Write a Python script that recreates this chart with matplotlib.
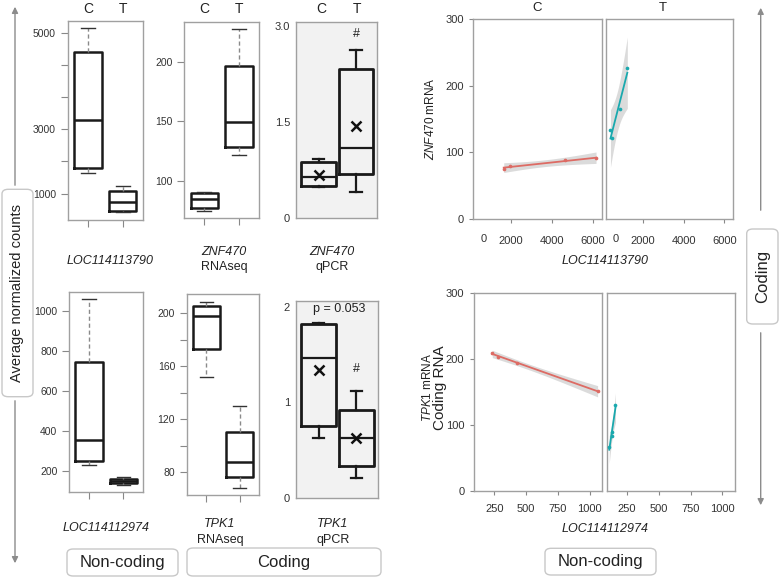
import numpy as np
import matplotlib
matplotlib.use("Agg")
import matplotlib.pyplot as plt
from matplotlib.patches import FancyBboxPatch, FancyArrowPatch

plt.rcParams['font.family'] = ['Liberation Sans', 'DejaVu Sans']
plt.rcParams['mathtext.fontset'] = 'custom'
plt.rcParams['mathtext.it'] = 'Liberation Sans:italic'
plt.rcParams['mathtext.rm'] = 'Liberation Sans'

# ---------------- data ----------------
groups = ["C", "T"]
# boxplot stats: whislo, q1, med, q3, whishi
loc3790_C = [1655, 1791, 3188, 4598, 5098]
loc3790_T = [437, 487, 745, 1083, 1246]
znf_rna_C = [75, 77.5, 85, 90, 91]
znf_rna_T = [122, 128, 149, 196, 227.5]
znf_qpcr_C = [0.48, 0.51, 0.65, 0.87, 0.92]
znf_qpcr_T = [0.41, 0.69, 1.10, 2.33, 2.62]
znf_qpcr_mean = [0.68, 1.43]
loc2974_C = [228, 251.5, 353, 743, 1058]
loc2974_T = [130, 138.5, 151.5, 161.5, 171.5]
tpk_rna_C = [151.7, 172.8, 198, 205.5, 208.8]
tpk_rna_T = [68.2, 76.5, 88, 110.4, 130]
tpk_qpcr_C = [0.625, 0.755, 1.46, 1.82, 1.83]
tpk_qpcr_T = [0.21, 0.33, 0.63, 0.92, 1.12]
tpk_qpcr_mean = [1.34, 0.63]

# scatter data
top_C_x = [1641, 1951, 4645, 6163]
top_C_y = [75, 80, 88.5, 91]
top_T_x = [384, 465, 841, 1216]
top_T_y = [133.5, 122, 164.5, 226.5]
bot_C_x = [234, 282, 432, 1063]
bot_C_y = [209.3, 202, 194, 151]
bot_T_x = [110, 129, 134, 159]
bot_T_y = [67, 83.7, 88.8, 129.6]

W, H = 780, 578
fig = plt.figure(figsize=(W / 100, H / 100), dpi=100)
fig.patch.set_facecolor('white')

def axpx(x0, y0, x1, y1):
    return fig.add_axes([x0 / W, 1 - y1 / H, (x1 - x0) / W, (y1 - y0) / H])

def ftext(x, y, s, **kw):
    kw.setdefault('ha', 'center')
    kw.setdefault('va', 'center')
    return fig.text(x / W, 1 - y / H, s, **kw)

SPINE = '#a0a0a0'
TICKC = '#333333'

def stats(vals, mean=None):
    d = dict(whislo=vals[0], q1=vals[1], med=vals[2], q3=vals[3], whishi=vals[4], fliers=[])
    if mean is not None:
        d['mean'] = mean
    return d

def style_axes(ax, bg='white'):
    ax.set_facecolor(bg)
    for s in ax.spines.values():
        s.set_color(SPINE)
        s.set_linewidth(1.0)
    ax.tick_params(colors='#888888', labelcolor=TICKC, labelsize=7.5, length=5, width=0.8)

def rnaseq_panel(box, c, t, ylim, ticks, labels, scale=None):
    ax = axpx(*box)
    style_axes(ax)
    if scale is not None:
        ax.set_yscale('function', functions=scale)
    ax.bxp([stats(c), stats(t)], positions=[1, 2], widths=0.8, capwidths=0.4,
           boxprops=dict(color='#1a1a1a', lw=1.8),
           medianprops=dict(color='#1a1a1a', lw=1.8),
           whiskerprops=dict(color='#8a8a8a', lw=1.0, ls=(0, (3, 2))),
           capprops=dict(color='#333333', lw=1.0))
    ax.set_xlim(0.42, 2.58)
    ax.set_ylim(*ylim)
    ax.set_yticks(ticks)
    ax.set_yticklabels(labels)
    ax.yaxis.set_minor_locator(matplotlib.ticker.NullLocator())
    ax.set_xticks([1, 2])
    ax.set_xticklabels(['', ''])
    return ax

def qpcr_panel(box, c, t, means, ylim, ticks, labels):
    ax = axpx(*box)
    style_axes(ax, bg='#f2f2f2')
    ax.bxp([stats(c, means[0]), stats(t, means[1])], positions=[1, 2], widths=0.93,
           capwidths=0.3, showmeans=True,
           boxprops=dict(color='#1a1a1a', lw=2.0),
           medianprops=dict(color='#1a1a1a', lw=1.6),
           whiskerprops=dict(color='#1a1a1a', lw=1.6),
           capprops=dict(color='#1a1a1a', lw=1.6),
           meanprops=dict(marker='x', markeredgecolor='#111111', markersize=7, markeredgewidth=1.8))
    ax.set_xlim(0.39, 2.57)
    ax.set_ylim(*ylim)
    ax.set_yticks(ticks)
    ax.set_yticklabels(labels)
    ax.set_xticks([])
    ax.tick_params(axis='y', length=0, pad=4, labelsize=8)
    return ax

# piecewise-linear scale of the first panel (as drawn in the figure)
_pv = [0, 1000, 3000, 5000, 8000]
_pp = [-32.5, 0, 65, 161, 305]
scale1 = (lambda v: np.interp(v, _pv, _pp), lambda p: np.interp(p, _pp, _pv))

ax1 = rnaseq_panel((67.7, 20.7, 142.7, 220), loc3790_C, loc3790_T, (200, 5256),
                   [1000, 2000, 3000, 3667, 4333, 5000], ['1000', '', '3000', '', '', '5000'], scale=scale1)
ax2 = rnaseq_panel((184.3, 21.5, 259, 218), znf_rna_C, znf_rna_T, (68.9, 233.6),
                   [100, 150, 200], ['100', '150', '200'])
ax3 = qpcr_panel((295.7, 21.7, 377.3, 218.3), znf_qpcr_C, znf_qpcr_T, znf_qpcr_mean,
                 (0, 3.06), [0, 1.5, 3.0], ['0', '1.5', '3.0'])
ax4 = rnaseq_panel((69.3, 291.7, 143.3, 492.3), loc2974_C, loc2974_T, (93.5, 1096.5),
                   [200, 400, 600, 800, 1000], ['200', '400', '600', '800', '1000'])
ax5 = rnaseq_panel((187, 294, 259, 495.3), tpk_rna_C, tpk_rna_T, (62.6, 214.6),
                   [80, 100, 120, 140, 160, 180, 200], ['80', '', '120', '', '160', '', '200'])
ax6 = qpcr_panel((295.7, 301, 377.7, 497.7), tpk_qpcr_C, tpk_qpcr_T, tpk_qpcr_mean,
                 (0, 2.06), [0, 1, 2], ['0', '1', '2'])

# annotations on qPCR panels
ax3.text(2, 2.87, '#', ha='center', va='center', fontsize=9, color='#222222')
ax6.text(2, 1.35, '#', ha='center', va='center', fontsize=9, color='#222222')
ax6.text(1.55, 1.98, 'p = 0.053', ha='center', va='center', fontsize=9, color='#222222')

# group labels above top panels
for cx, tx in [(88, 122.7), (204, 238.7), (321, 356.7)]:
    ftext(cx, 9, groups[0], fontsize=10, color='#222222')
    ftext(tx, 9, groups[1], fontsize=10, color='#222222')

# gene labels
ftext(110, 261, 'LOC114113790', fontsize=9, style='italic', color='#222222')
ftext(224, 252, 'ZNF470', fontsize=9, style='italic', color='#222222')
ftext(224, 267, 'RNAseq', fontsize=9, color='#222222')
ftext(332, 252, 'ZNF470', fontsize=9, style='italic', color='#222222')
ftext(332, 267, 'qPCR', fontsize=9, color='#222222')
ftext(106, 528, 'LOC114112974', fontsize=9, style='italic', color='#222222')
ftext(220, 524, 'TPK1', fontsize=9, style='italic', color='#222222')
ftext(220, 540, 'RNAseq', fontsize=9, color='#222222')
ftext(333, 524, 'TPK1', fontsize=9, style='italic', color='#222222')
ftext(333, 540, 'qPCR', fontsize=9, color='#222222')

# ---------------- scatter / regression panels ----------------
COL_C = '#dd6b64'
COL_T = '#1aa9ae'

def regress(ax, xs, ys, col):
    xs = np.asarray(xs, float)
    ys = np.asarray(ys, float)
    n = len(xs)
    b, a = np.polyfit(xs, ys, 1)
    grid = np.linspace(xs.min(), xs.max(), 80)
    fit = a + b * grid
    resid = ys - (a + b * xs)
    s = np.sqrt(np.sum(resid ** 2) / (n - 2))
    sxx = np.sum((xs - xs.mean()) ** 2)
    tval = 4.303  # t(0.975, df=2)
    half = tval * s * np.sqrt(1 / n + (grid - xs.mean()) ** 2 / sxx)
    ax.fill_between(grid, fit - half, fit + half, color='#9a9a9a', alpha=0.35, lw=0, zorder=1)
    ax.plot(grid, fit, color=col, lw=1.3, zorder=3)
    ax.scatter(xs, ys, s=7, color=col, zorder=4, lw=0)

def scatter_axes(box, first, xpad):
    ax = axpx(*box)
    style_axes(ax)
    ax.tick_params(labelsize=8, length=3)
    ax.tick_params(axis='x', pad=xpad)
    ax.tick_params(axis='y', pad=4)
    ax.set_ylim(0, 300)
    if first:
        ax.set_yticks([0, 100, 200, 300])
    else:
        ax.set_yticks([])
    return ax

sC1 = scatter_axes((473.3, 19.3, 601.7, 219), True, 9)
sT1 = scatter_axes((605.7, 19.3, 733.3, 219), False, 9)
sC2 = scatter_axes((474, 292.7, 602.3, 491), True, 6)
sT2 = scatter_axes((606.7, 292.7, 735, 491), False, 6)

regress(sC1, top_C_x, top_C_y, COL_C)
regress(sT1, top_T_x, top_T_y, COL_T)
regress(sC2, bot_C_x, bot_C_y, COL_C)
regress(sT2, bot_T_x, bot_T_y, COL_T)

for ax in (sC1, sT1):
    ax.set_xlim(150, 6440)
    ax.set_xticks([2000, 4000, 6000])
    ax.set_xticklabels(['2000', '4000', '6000'])
    ax.text(0.08, -0.10, '0', transform=ax.transAxes, ha='center', va='center',
            fontsize=8, color=TICKC)
for ax in (sC2, sT2):
    ax.set_xlim(90, 1100)
    ax.set_xticks([250, 500, 750, 1000])
    ax.set_xticklabels(['250', '500', '750', '1000'])
for ax in (sC1, sT1, sC2, sT2):
    ax.set_ylim(0, 300)

ftext(537, 8, 'C', fontsize=9.5, color='#222222')
ftext(663, 8, 'T', fontsize=9.5, color='#222222')
ftext(605, 261, 'LOC114113790', fontsize=9, style='italic', color='#222222')
ftext(605, 529, 'LOC114112974', fontsize=9, style='italic', color='#222222')
ftext(430, 119, r'$\mathit{ZNF470}$ mRNA', fontsize=8.5, rotation=90, color='#222222')
ftext(427, 387, r'$\mathit{TPK1}$ mRNA', fontsize=8.5, rotation=90, color='#222222')
ftext(440, 388, 'Coding RNA', fontsize=11, rotation=90, color='#222222')

# ---------------- frame labels, boxes, arrows ----------------
def rbox(x0, y0, x1, y1):
    p = FancyBboxPatch((x0 / W, 1 - y1 / H), (x1 - x0) / W, (y1 - y0) / H,
                       boxstyle='round,pad=0,rounding_size=0.008',
                       transform=fig.transFigure, facecolor='white', edgecolor='#c8c8c8', lw=1.0)
    fig.add_artist(p)

def arrow(x, y0, y1):
    a = FancyArrowPatch((x / W, 1 - y0 / H), (x / W, 1 - y1 / H), transform=fig.transFigure,
                        arrowstyle='-|>', mutation_scale=9, color='#8c8c8c', lw=1.0)
    fig.add_artist(a)

rbox(2, 189.3, 33, 396.7)
ftext(17.5, 293, 'Average normalized counts', fontsize=10.5, rotation=90, color='#222222')
arrow(15, 188, 4)
arrow(15, 398, 566)

rbox(67, 549, 178, 576)
ftext(122.5, 562.5, 'Non-coding', fontsize=12, color='#222222')
rbox(187, 548, 381, 576)
ftext(284, 562, 'Coding', fontsize=12, color='#222222')

rbox(746.7, 229, 778, 324)
ftext(762.5, 276.5, 'Coding', fontsize=12, rotation=90, color='#222222')
arrow(760.7, 213, 5)
arrow(760.7, 330, 508)

rbox(545, 548.3, 656, 575)
ftext(600.5, 561.7, 'Non-coding', fontsize=12, color='#222222')

fig.savefig('out.png', dpi=100, facecolor='white')
